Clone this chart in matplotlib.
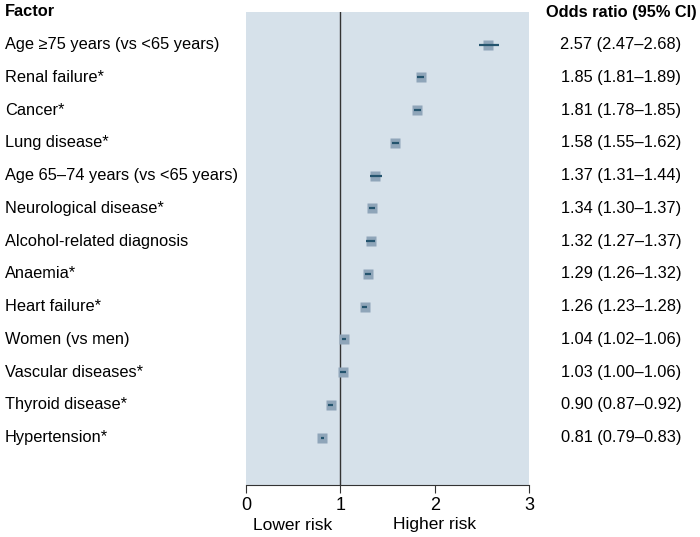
import matplotlib.pyplot as plt

plt.rcParams['font.family'] = ['Liberation Sans', 'DejaVu Sans']

factors = ["Age \u226575 years (vs <65 years)", "Renal failure*", "Cancer*", "Lung disease*",
           "Age 65\u201374 years (vs <65 years)", "Neurological disease*", "Alcohol-related diagnosis",
           "Anaemia*", "Heart failure*", "Women (vs men)", "Vascular diseases*",
           "Thyroid disease*", "Hypertension*"]
odds = [2.57, 1.85, 1.81, 1.58, 1.37, 1.34, 1.32, 1.29, 1.26, 1.04, 1.03, 0.90, 0.81]
lower = [2.47, 1.81, 1.78, 1.55, 1.31, 1.30, 1.27, 1.26, 1.23, 1.02, 1.00, 0.87, 0.79]
upper = [2.68, 1.89, 1.85, 1.62, 1.44, 1.37, 1.37, 1.32, 1.28, 1.06, 1.06, 0.92, 0.83]

fig = plt.figure(figsize=(7, 5.37), dpi=100)
ax = fig.add_axes([246/700, 1 - 485/537, (529-246)/700, (485-12)/537])
ax.set_facecolor('#d6e1ea')

ys = list(range(1, len(factors) + 1))
ax.axvline(1, color='#333333', lw=1, zorder=1)
ax.plot(odds, ys, 's', ms=7.3, color='#8fa5b9', mec='none', zorder=2)
ax.hlines(ys, lower, upper, color='#24546e', lw=1.6, zorder=3)

ax.set_xlim(0, 3)
ax.set_ylim(14.45, 0)
ax.set_yticks([])
ax.set_xticks([0, 1, 2, 3])
ax.tick_params(axis='x', labelsize=13, length=6, color='#333333', pad=3)
for sp in ['left', 'right', 'top']:
    ax.spines[sp].set_visible(False)
ax.spines['bottom'].set_color('#333333')

fig.text(5/700, 1 - 12/537, "Factor", fontsize=11.8, fontweight='bold', va='center', ha='left')
fig.text(621/700, 1 - 12/537, "Odds ratio (95% CI)", fontsize=11.8, fontweight='bold', va='center', ha='center')
for y, f, o, lo, hi in zip(ys, factors, odds, lower, upper):
    ypix = 12 + (y / 14.45) * (485 - 12)
    fig.text(5/700, 1 - ypix/537, f, fontsize=11.8, va='center', ha='left')
    fig.text(621/700, 1 - ypix/537, f"{o:.2f} ({lo:.2f}\u2013{hi:.2f})", fontsize=11.8,
             va='center', ha='center')

fig.text(293/700, 1 - 525/537, "Lower risk", fontsize=12.5, va='center', ha='center')
fig.text(435/700, 1 - 525/537, "Higher risk", fontsize=12.5, va='center', ha='center')

plt.savefig('out.png', dpi=100)
